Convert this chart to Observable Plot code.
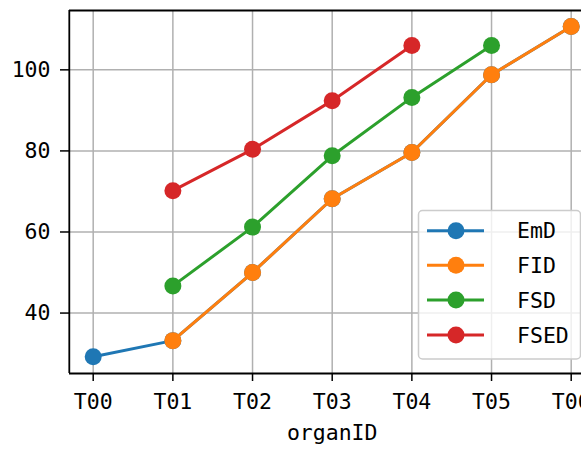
<!DOCTYPE html>
<html>
<head>
<meta charset="utf-8">
<script src="https://cdn.jsdelivr.net/npm/d3@7"></script>
<script src="https://cdn.jsdelivr.net/npm/@observablehq/plot@0.6"></script>
<style>
  html, body { margin: 0; padding: 0; background: #fff; overflow: hidden; }
</style>
</head>
<body>
<div id="chart"></div>
<script>
const categories = ["T00", "T01", "T02", "T03", "T04", "T05", "T06"];
const seriesNames = ["EmD", "FID", "FSD", "FSED"];
const colors = ["#1f77b4", "#ff7f0e", "#2ca02c", "#d62728"];
const EmD  = [29.2, 33.2, 50.0, 68.2, 79.6, 98.8, 110.7];
const FID  = [null, 33.2, 50.0, 68.2, 79.6, 98.8, 110.7];
const FSD  = [null, 46.7, 61.2, 78.8, 93.2, 106.0, null];
const FSED = [null, 70.2, 80.4, 92.4, 106.0, null, null];
const yTicks = [40, 60, 80, 100];
const xLabel = "organID";

const seriesValues = [EmD, FID, FSD, FSED];
const data = [];
seriesNames.forEach((name, s) => {
  seriesValues[s].forEach((v, i) => {
    if (v != null) data.push({series: name, idx: i, value: v});
  });
});

const FONT = "DejaVu Sans Mono";
const FS = 21.5;
const yDomain = [25.09, 114.64];

const marks = [
  Plot.gridX(d3.range(categories.length), {stroke: "#b0b0b0", strokeOpacity: 1, strokeWidth: 1.5}),
  Plot.gridY(yTicks, {stroke: "#b0b0b0", strokeOpacity: 1, strokeWidth: 1.5})
];
seriesNames.forEach((name, s) => {
  const d = data.filter(r => r.series === name);
  marks.push(Plot.line(d, {x: "idx", y: "value", stroke: colors[s], strokeWidth: 3}));
  marks.push(Plot.dot(d, {x: "idx", y: "value", fill: colors[s], stroke: "none", r: 8.5}));
});
marks.push(
  Plot.ruleX([-0.3], {stroke: "#000", strokeWidth: 1.8}),
  Plot.ruleY([yDomain[0]], {stroke: "#000", strokeWidth: 1.8}),
  Plot.ruleY([yDomain[1]], {stroke: "#000", strokeWidth: 1.8}),
  Plot.axisX(d3.range(categories.length), {
    tickFormat: i => categories[i], tickSize: 8, tickPadding: 12,
    fontSize: FS, label: null, stroke: "#000", strokeWidth: 1.5
  }),
  Plot.axisY(yTicks, {
    tickSize: 9, tickPadding: 10, fontSize: FS, label: null,
    stroke: "#000", strokeWidth: 1.5
  }),
  Plot.text([xLabel], {x: [3], frameAnchor: "bottom", dy: 66, fontSize: FS, text: d => d, lineAnchor: "bottom", fill: "#000"})
);

const chart = Plot.plot({
  width: 581,
  height: 449,
  marginLeft: 69,
  marginRight: 0,
  marginTop: 10,
  marginBottom: 76,
  style: {fontFamily: FONT, color: "#000", background: "#fff", overflow: "hidden"},
  x: {type: "linear", domain: [-0.3, 6.3], range: [68.8, 594.6]},
  y: {domain: yDomain},
  marks
});
document.getElementById("chart").appendChild(chart);

// Legend (inside the plot, lower right)
const svg = d3.select(chart);
const lg = svg.append("g").attr("text-anchor", "start");
lg.append("rect")
  .attr("x", 418.5).attr("y", 210.5).attr("width", 162).attr("height", 148.5)
  .attr("rx", 4).attr("fill", "#fff").attr("fill-opacity", 0.8)
  .attr("stroke", "#cccccc").attr("stroke-width", 1.5);
const rowY = [230.7, 265.3, 300, 335];
seriesNames.forEach((name, s) => {
  const g = lg.append("g").attr("transform", `translate(0,${rowY[s]})`);
  g.append("line").attr("x1", 427).attr("x2", 484).attr("y1", 0).attr("y2", 0)
    .attr("stroke", colors[s]).attr("stroke-width", 3);
  g.append("circle").attr("cx", 456).attr("cy", 0).attr("r", 8.5).attr("fill", colors[s]);
  g.append("text").attr("x", 517).attr("y", 0).attr("dy", "0.36em")
    .attr("text-anchor", "start")
    .attr("font-family", FONT).attr("font-size", FS).attr("fill", "#000").text(name);
});
</script>
</body>
</html>
